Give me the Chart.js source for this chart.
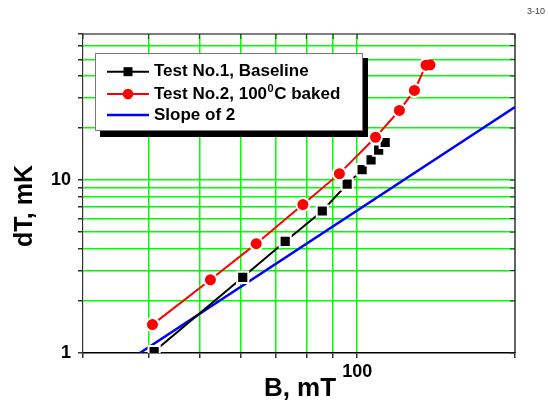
<!DOCTYPE html>
<html>
<head>
<meta charset="utf-8">
<script src="https://cdn.jsdelivr.net/npm/chart.js@4.4.1/dist/chart.umd.min.js"></script>
<style>
  html, body { margin: 0; padding: 0; background: #fff; }
  #wrap { width: 548px; height: 403px; }
</style>
</head>
<body>
<div id="wrap"><canvas id="dtChart" width="548" height="403"></canvas></div>
<script>
// data (B in mT, dT in mK)
const bTest1 = [41.0, 60.5, 72.9, 85.8, 95.7, 102.2, 106.3, 109.9, 113.1];
const dtTest1 = [1.02, 2.74, 4.42, 6.63, 9.48, 11.5, 13.1, 14.9, 16.5];

const bTest2 = [40.7, 52.5, 64.2, 78.8, 92.5, 108.4, 120.4, 128.6, 135.3, 137.7];
const dtTest2 = [1.46, 2.65, 4.29, 7.22, 10.9, 17.7, 25.3, 33.0, 46.2, 46.4];

const bSlope = [38.5, 200];
const dtSlope = [1, 26.5];

const seriesNames = ['Test No.1, Baseline', 'Test No.2, 100', 'Slope of 2'];

const xTicks = [30, 40, 50, 60, 70, 80, 90, 100, 200];
const yTicks = [1, 2, 3, 4, 5, 6, 7, 8, 9, 10, 20, 30, 40, 50, 60, 70];
const xLabels = [100];
const yLabels = [1, 10];

const FONT = '"Liberation Sans", Arial, sans-serif';
const GREEN = '#00ff00';

function toPoints(xs, ys) {
    return xs.map((x, i) => ({ x: x, y: ys[i] }));
}

// last red point overlaps the one before it, keep them as one blob
const isLast = (c, n) => c.dataIndex === n - 1;

// frame, inner ticks, custom legend and axis titles
const extras = {
    id: 'extras',
    beforeDatasetsDraw(chart) {
        const ctx = chart.ctx;
        const a = chart.chartArea;
        const xs = chart.scales.x, ys = chart.scales.y;
        ctx.save();
        ctx.strokeStyle = '#000';
        ctx.lineWidth = 1.2;
        ctx.beginPath();
        ctx.moveTo(a.left, a.top); ctx.lineTo(a.right, a.top); ctx.lineTo(a.right, a.bottom);
        ctx.stroke();
        ctx.lineWidth = 1;
        ctx.strokeStyle = '#333';
        ctx.beginPath();
        yTicks.forEach(v => {
            const y = ys.getPixelForValue(v);
            ctx.moveTo(a.right - 5, y); ctx.lineTo(a.right, y);
        });
        xTicks.forEach(v => {
            const x = xs.getPixelForValue(v);
            ctx.moveTo(x, a.top); ctx.lineTo(x, a.top + 5);
        });
        ctx.stroke();
        ctx.restore();
    },
    afterDraw(chart) {
        const ctx = chart.ctx;
        ctx.save();

        // legend box with drop shadow
        ctx.fillStyle = '#000';
        ctx.fillRect(100, 58, 268, 79);
        ctx.fillStyle = '#fff';
        ctx.fillRect(95, 53, 268, 78);
        ctx.strokeStyle = '#777';
        ctx.lineWidth = 1;
        ctx.strokeRect(95.5, 53.5, 267, 77);

        const rows = [71.7, 94, 115];
        const colors = ['#000', '#ff0000', '#0000ff'];
        rows.forEach((ry, i) => {
            ctx.strokeStyle = colors[i];
            ctx.lineWidth = i === 2 ? 2.5 : 2;
            ctx.beginPath();
            ctx.moveTo(107, ry); ctx.lineTo(149, ry);
            ctx.stroke();
            ctx.fillStyle = colors[i];
            if (i === 0) {
                ctx.fillRect(123.5, ry - 4.5, 9, 9);
            } else if (i === 1) {
                ctx.beginPath();
                ctx.arc(128, ry, 5.2, 0, Math.PI * 2);
                ctx.fill();
            }
            ctx.fillStyle = '#000';
            ctx.font = 'bold 17px ' + FONT;
            ctx.textAlign = 'left';
            ctx.textBaseline = 'alphabetic';
            const base = ry + 4.5;
            ctx.fillText(seriesNames[i], 154, base);
            if (i === 1) {
                let x = 154 + ctx.measureText(seriesNames[i]).width;
                ctx.font = 'bold 11px ' + FONT;
                ctx.fillText('0', x + 0.5, base - 6.5);
                x += ctx.measureText('0').width + 1;
                ctx.font = 'bold 17px ' + FONT;
                ctx.fillText('C baked', x, base);
            }
        });

        // axis titles
        ctx.fillStyle = '#000';
        ctx.font = 'bold 26px ' + FONT;
        ctx.textAlign = 'center';
        ctx.textBaseline = 'middle';
        ctx.fillText('B, mT', 300, 389);
        ctx.save();
        ctx.translate(25, 206);
        ctx.rotate(-Math.PI / 2);
        ctx.font = 'bold 25px ' + FONT;
        ctx.fillText('dT, mK', 0, 0);
        ctx.restore();

        // page mark
        ctx.font = '9px ' + FONT;
        ctx.fillStyle = '#444';
        ctx.textAlign = 'left';
        ctx.fillText('3-10', 527, 12);
        ctx.restore();
    }
};

const ctx = document.getElementById('dtChart').getContext('2d');
new Chart(ctx, {
    type: 'line',
    data: {
        datasets: [
            {
                label: 'Test No.2',
                data: toPoints(bTest2, dtTest2),
                borderColor: '#ff0000',
                backgroundColor: '#ff0000',
                borderWidth: 2,
                pointStyle: 'circle',
                pointRadius: c => isLast(c, bTest2.length) ? 5.5 : 6.5,
                pointBorderColor: '#fff',
                pointBorderWidth: c => isLast(c, bTest2.length) ? 0 : 2,
                pointBackgroundColor: '#ff0000',
                order: 1
            },
            {
                label: 'Test No.1',
                data: toPoints(bTest1, dtTest1),
                borderColor: '#000',
                backgroundColor: '#000',
                borderWidth: 2,
                pointStyle: 'rect',
                pointRadius: 7.9,
                pointBorderColor: '#fff',
                pointBorderWidth: 2,
                pointBackgroundColor: '#000',
                order: 2
            },
            {
                label: 'Slope of 2',
                data: toPoints(bSlope, dtSlope),
                borderColor: '#0000ff',
                borderWidth: 2.5,
                pointRadius: 0,
                order: 3
            }
        ]
    },
    options: {
        responsive: false,
        animation: false,
        layout: { padding: { top: 34, right: 33, left: 0, bottom: 0 } },
        plugins: {
            legend: { display: false },
            title: { display: false },
            tooltip: { enabled: false }
        },
        scales: {
            x: {
                type: 'logarithmic',
                min: 30,
                max: 200,
                afterBuildTicks: s => { s.ticks = xTicks.map(v => ({ value: v })); },
                afterFit: s => { s.height = 50; },
                border: { color: '#000', width: 1.5 },
                grid: {
                    color: c => (c.tick && (c.tick.value === 30 || c.tick.value === 200)) ? 'rgba(0,0,0,0)' : GREEN,
                    lineWidth: 1.5,
                    tickColor: '#333',
                    tickLength: 5
                },
                ticks: {
                    autoSkip: false,
                    maxRotation: 0,
                    padding: 3,
                    color: '#000',
                    font: { family: FONT, size: 18, weight: 'bold' },
                    callback: v => xLabels.includes(v) ? String(v) : ''
                }
            },
            y: {
                type: 'logarithmic',
                min: 1,
                max: 70,
                afterBuildTicks: s => { s.ticks = yTicks.map(v => ({ value: v })); },
                afterFit: s => { s.width = 83; },
                border: { color: '#333', width: 1.2 },
                grid: {
                    color: c => (c.tick && (c.tick.value === 1 || c.tick.value === 70)) ? 'rgba(0,0,0,0)' : GREEN,
                    lineWidth: 1.5,
                    tickColor: '#333',
                    tickLength: 5
                },
                ticks: {
                    autoSkip: false,
                    padding: 7,
                    color: '#000',
                    font: { family: FONT, size: 18, weight: 'bold' },
                    callback: v => yLabels.includes(v) ? String(v) : ''
                }
            }
        }
    },
    plugins: [extras]
});
</script>
</body>
</html>
